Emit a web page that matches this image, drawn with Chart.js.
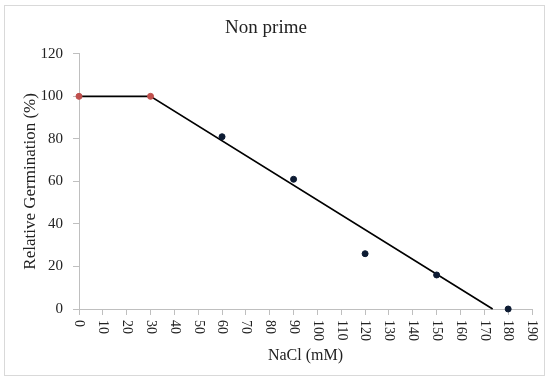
<!DOCTYPE html>
<html>
<head>
<meta charset="utf-8">
<script src="https://cdn.jsdelivr.net/npm/chart.js@4"></script>
<style>
  html, body { margin: 0; padding: 0; background: #fff; }
  #wrap { width: 550px; height: 382px; }
</style>
</head>
<body>
<div id="wrap"><canvas id="c" width="550" height="382"></canvas></div>
<script>
// ---- data ----
const primedX = [0, 30];
const primedY = [100, 100];
const obsX = [60, 90, 120, 150, 180];
const obsY = [81, 61, 26, 16, 0];
const fitX = [0, 30, 173.5];
const fitY = [100, 100, 0];
const xTicks = [0, 10, 20, 30, 40, 50, 60, 70, 80, 90, 100, 110, 120, 130, 140, 150, 160, 170, 180, 190];

const FONT = "'Liberation Serif', 'DejaVu Serif', serif";
const AXIS_GRAY = "#bfbfbf";
const TEXT = "#222";

const pts = (xs, ys) => xs.map((x, i) => ({ x, y: ys[i] }));

// x tick labels read top-to-bottom (rotated clockwise), which Chart.js can't do itself
const rotatedXLabels = {
  id: "rotatedXLabels",
  afterDraw(chart) {
    const { ctx, scales: { x, y } } = chart;
    ctx.save();
    ctx.font = "14px " + FONT;
    ctx.fillStyle = TEXT;
    ctx.textAlign = "left";
    ctx.textBaseline = "middle";
    const top = y.bottom + 11;
    for (const v of xTicks) {
      const px = x.getPixelForValue(v);
      ctx.save();
      ctx.translate(px, top);
      ctx.rotate(Math.PI / 2);
      ctx.fillText(String(v), 0, 0);
      ctx.restore();
    }
    ctx.restore();
  }
};

const frame = {
  id: "frame",
  beforeDraw(chart) {
    const { ctx } = chart;
    ctx.save();
    ctx.fillStyle = "#fff";
    ctx.fillRect(0, 0, chart.width, chart.height);
    ctx.strokeStyle = "#d9d9d9";
    ctx.lineWidth = 1;
    ctx.strokeRect(4.5, 5.5, 540, 370);
    ctx.restore();
  }
};

new Chart(document.getElementById("c").getContext("2d"), {
  type: "scatter",
  data: {
    datasets: [
      {
        label: "fit",
        data: pts(fitX, fitY),
        showLine: true,
        borderColor: "#000",
        borderWidth: 1.6,
        pointRadius: 0,
        clip: false,
        order: 3
      },
      {
        label: "primed",
        data: pts(primedX, primedY),
        backgroundColor: "#c0504d",
        borderColor: "#c0504d",
        pointRadius: 3,
        clip: false,
        order: 1
      },
      {
        label: "observed",
        data: pts(obsX, obsY),
        backgroundColor: "#0d1b33",
        borderColor: "#0d1b33",
        pointRadius: 3,
        clip: false,
        order: 2
      }
    ]
  },
  options: {
    responsive: false,
    animation: false,
    layout: { padding: { top: 0, right: 18, bottom: 0, left: 0 } },
    plugins: {
      legend: { display: false },
      tooltip: { enabled: false },
      title: {
        display: true,
        text: "Non prime",
        color: TEXT,
        font: { family: FONT, size: 19, weight: "normal" },
        padding: { top: 17, bottom: 14 }
      }
    },
    scales: {
      x: {
        type: "linear",
        min: 0,
        max: 190,
        afterFit: (s) => { s.height = 73; },
        ticks: { stepSize: 10, display: false },
        grid: { display: true, drawOnChartArea: false, tickLength: 6, color: AXIS_GRAY },
        border: { color: AXIS_GRAY },
        title: {
          display: true,
          text: "NaCl (mM)",
          color: TEXT,
          font: { family: FONT, size: 16 },
          padding: { top: 0, bottom: 17 }
        }
      },
      y: {
        min: 0,
        max: 120,
        afterFit: (s) => { s.width = 79; },
        ticks: {
          stepSize: 20,
          color: TEXT,
          padding: 10,
          font: { family: FONT, size: 15 }
        },
        grid: { display: true, drawOnChartArea: false, tickLength: 6, color: AXIS_GRAY },
        border: { color: AXIS_GRAY },
        title: {
          display: true,
          text: "Relative Germination (%)",
          color: TEXT,
          font: { family: FONT, size: 17 },
          padding: { top: 20, bottom: 0 }
        }
      }
    }
  },
  plugins: [frame, rotatedXLabels]
});
</script>
</body>
</html>
